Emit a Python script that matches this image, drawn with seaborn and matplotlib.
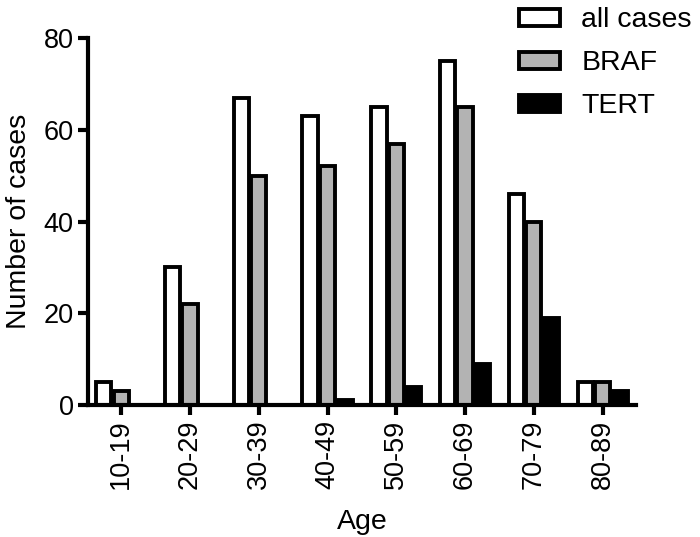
import matplotlib
matplotlib.use("Agg")
import matplotlib.pyplot as plt
import seaborn as sns
import pandas as pd

ages = ["10-19", "20-29", "30-39", "40-49", "50-59", "60-69", "70-79", "80-89"]
all_cases = [5, 30, 67, 63, 65, 75, 46, 5]
braf = [3, 22, 50, 52, 57, 65, 40, 5]
tert = [0, 0, 0, 1, 4, 9, 19, 3]
series = ["all cases", "BRAF", "TERT"]
colors = ["#ffffff", "#b3b3b3", "#000000"]

df = pd.DataFrame({
    "Age": ages * 3,
    "count": all_cases + braf + tert,
    "series": [s for s in series for _ in ages],
})

sns.set_style("ticks")
plt.rcParams["font.family"] = ["Liberation Sans", "DejaVu Sans"]
plt.rcParams["text.color"] = "black"
plt.rcParams["axes.labelcolor"] = "black"
plt.rcParams["xtick.color"] = "black"
plt.rcParams["ytick.color"] = "black"
plt.rcParams["axes.edgecolor"] = "black"

fs_tick = 19.5
fs_lab = 20.5
fs_leg = 20.5
fig = plt.figure(figsize=(7, 5.37), dpi=100)
ax = fig.add_axes([0.126, 0.246, 0.783, 0.683])

sns.barplot(data=df, x="Age", y="count", hue="series", order=ages,
            hue_order=series, palette=colors, width=0.76, gap=0.12,
            edgecolor="black", linewidth=2.8, ax=ax)

ax.set_ylim(0, 80)
ax.set_xlim(-0.48, 7.49)
ax.set_yticks([0, 20, 40, 60, 80])
ax.tick_params(axis="both", width=3, length=7.5, labelsize=fs_tick, pad=3)
ax.tick_params(axis="x", rotation=90)
for side in ["left", "bottom"]:
    ax.spines[side].set_linewidth(3)
ax.spines["top"].set_visible(False)
ax.spines["right"].set_visible(False)
ax.set_xlabel("Age", fontsize=fs_lab, labelpad=14)
ax.set_ylabel("Number of cases", fontsize=fs_lab, labelpad=8)

handles, labels = ax.get_legend_handles_labels()
ax.get_legend().remove()
leg = fig.legend(handles=handles, labels=labels,
                 loc="upper left", bbox_to_anchor=(0.733, 0.997), frameon=False,
                 fontsize=fs_leg, handlelength=1.45, handleheight=0.55,
                 labelspacing=0.6, handletextpad=0.75, borderaxespad=0,
                 borderpad=0.2)
for h in leg.legend_handles:
    h.set_linewidth(2.8)
    h.set_edgecolor("black")

fig.savefig("out.png", dpi=100)
